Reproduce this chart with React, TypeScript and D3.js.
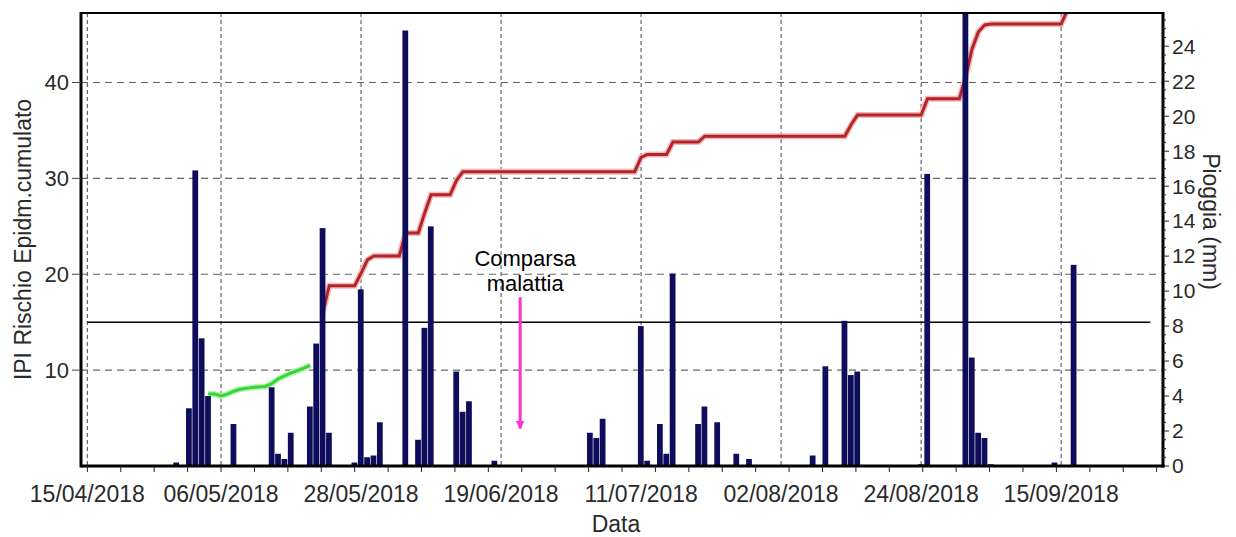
import React from "react";
import * as d3 from "d3";

// daily rain (mm), right axis
const rainDates = [
  "2018-04-29", "2018-05-01", "2018-05-02", "2018-05-03", "2018-05-04", "2018-05-08",
  "2018-05-14", "2018-05-15", "2018-05-16", "2018-05-17", "2018-05-20", "2018-05-21",
  "2018-05-22", "2018-05-23", "2018-05-27", "2018-05-28", "2018-05-29", "2018-05-30",
  "2018-05-31", "2018-06-04", "2018-06-06", "2018-06-07", "2018-06-08", "2018-06-12",
  "2018-06-13", "2018-06-14", "2018-06-18", "2018-07-03", "2018-07-04", "2018-07-05",
  "2018-07-11", "2018-07-12", "2018-07-14", "2018-07-15", "2018-07-16", "2018-07-20",
  "2018-07-21", "2018-07-23", "2018-07-26", "2018-07-28", "2018-08-07", "2018-08-09",
  "2018-08-12", "2018-08-13", "2018-08-14", "2018-08-24", "2018-08-25", "2018-08-31",
  "2018-09-01", "2018-09-02", "2018-09-03", "2018-09-04", "2018-09-14", "2018-09-17",
];
const rainMm = [
  0.2, 3.3, 16.9, 7.3, 4.0, 2.4,
  4.5, 0.7, 0.4, 1.9, 3.4, 7.0,
  13.6, 1.9, 0.2, 10.1, 0.5, 0.6,
  2.5, 24.9, 1.5, 7.9, 13.7, 5.4,
  3.1, 3.7, 0.3, 1.9, 1.6, 2.7,
  8.0, 0.3, 2.4, 0.7, 11.0, 2.4,
  3.4, 2.5, 0.7, 0.4, 0.6, 5.7,
  8.3, 5.2, 5.4, 0.1, 16.7, 27.0,
  6.2, 1.9, 1.6, 0.1, 0.2, 11.5,
];

// IPI cumulated risk, left axis (green below threshold, red above)
const ipiDates = [
  "2018-05-04", "2018-05-05", "2018-05-06", "2018-05-07", "2018-05-08", "2018-05-09",
  "2018-05-11", "2018-05-13", "2018-05-14", "2018-05-15", "2018-05-16", "2018-05-17",
  "2018-05-19", "2018-05-20", "2018-05-22", "2018-05-23", "2018-05-27",
  "2018-05-28", "2018-05-29", "2018-05-30", "2018-06-03", "2018-06-04", "2018-06-06",
  "2018-06-07", "2018-06-08", "2018-06-11", "2018-06-12", "2018-06-13", "2018-07-10",
  "2018-07-11", "2018-07-12", "2018-07-15", "2018-07-16", "2018-07-20", "2018-07-21",
  "2018-08-12", "2018-08-13", "2018-08-14", "2018-08-24", "2018-08-25", "2018-08-30",
  "2018-08-31", "2018-09-01", "2018-09-02", "2018-09-03", "2018-09-04", "2018-09-15",
  "2018-09-16", "2018-09-17",
];
const ipiValues = [
  7.5, 7.5, 7.3, 7.5, 7.8, 8.0,
  8.2, 8.3, 8.6, 9.1, 9.4, 9.7,
  10.2, 10.5, 16.0, 18.8, 18.8,
  20.1, 21.5, 21.9, 21.9, 24.3, 24.3,
  26.4, 28.3, 28.3, 29.8, 30.7, 30.7,
  32.2, 32.5, 32.5, 33.8, 33.8, 34.4,
  34.4, 35.6, 36.6, 36.6, 38.3, 38.3,
  40.6, 43.5, 45.3, 46.0, 46.1, 46.1,
  47.6, 49.0,
];

const dateTicks = [
  "2018-04-15", "2018-05-06", "2018-05-28", "2018-06-19",
  "2018-07-11", "2018-08-02", "2018-08-24", "2018-09-15",
];
const ipiTicks = [10, 20, 30, 40];
const rainTicks = [0, 2, 4, 6, 8, 10, 12, 14, 16, 18, 20, 22, 24];

const ipiThreshold = 15;
const thresholdSpan = ["2018-04-15", "2018-09-29"];
const onsetDate = "2018-06-22";
const onsetArrow = [17.6, 3.9];
const onsetLabel = ["Comparsa", "malattia"];

const W = 1236;
const H = 537;
const L = 81, R = 1163, T = 13, B = 466;
const font = "'Liberation Sans', Arial, sans-serif";
const txt = "#2a2a2a";

export default function App() {
  const x = d3.scaleUtc()
    .domain([new Date("2018-04-14"), new Date("2018-10-01")])
    .range([L, R]);
  const yL = d3.scaleLinear().domain([0, 47.25]).range([B, T]);
  const yR = d3.scaleLinear().domain([0, 25.9]).range([B, T]);

  const day = 86400000;
  const dayW = x(new Date(day * 2)) - x(new Date(day));

  const ipi = ipiDates.map((d, i) => ({ date: new Date(d), v: ipiValues[i] }));
  const line = d3.line<{ date: Date; v: number }>()
    .x((d) => x(d.date))
    .y((d) => yL(d.v));
  const lowPath = line(ipi.filter((d) => d.v < ipiThreshold)) || "";
  const highPath = line(ipi.filter((d) => d.v >= ipiThreshold)) || "";

  const majorX = dateTicks.map((d) => x(new Date(d)));
  const step = (majorX[1] - majorX[0]) / 4;
  const minorX: number[] = [];
  for (let v = majorX[0]; v <= R; v += step) minorX.push(v);

  const minorR = d3.range(0, 25.6, 0.5);
  const yT = yL(ipiThreshold);
  const ox = x(new Date(onsetDate));

  return (
    <svg width={W} height={H} style={{ position: "absolute", left: 0, top: 0, background: "#fff" }}>
      <defs>
        <clipPath id="plot"><rect x={L} y={T} width={R - L} height={B - T} /></clipPath>
        <marker id="arrow" viewBox="0 0 10 10" refX="9" refY="5" markerWidth="3" markerHeight="3" orient="auto">
          <path d="M0,0 L10,5 L0,10 z" fill="#ff33cc" />
        </marker>
      </defs>

      {/* grid */}
      {ipiTicks.map((t) => (
        <line key={"gh" + t} x1={L} x2={R} y1={yL(t)} y2={yL(t)} stroke="#666" strokeWidth={1.2} strokeDasharray="7,5" />
      ))}
      {majorX.map((v, i) => (
        <line key={"gv" + i} x1={v} x2={v} y1={T} y2={B} stroke="#666" strokeWidth={1.2} strokeDasharray="4,3" />
      ))}

      {/* threshold */}
      <line x1={x(new Date(thresholdSpan[0]))} x2={x(new Date(thresholdSpan[1]))} y1={yT} y2={yT} stroke="#000" strokeWidth={1.5} />

      {/* IPI line */}
      <g clipPath="url(#plot)">
        <path d={highPath} fill="none" stroke="#f2b8b8" strokeWidth={6} />
        <path d={highPath} fill="none" stroke="#b3232a" strokeWidth={3} />
        <path d={lowPath} fill="none" stroke="#b8f0b8" strokeWidth={6} />
        <path d={lowPath} fill="none" stroke="#33d633" strokeWidth={3} />
      </g>

      {/* rain bars */}
      <g clipPath="url(#plot)">
        {rainDates.map((d, i) => {
          const cx = x(new Date(d));
          const top = yR(rainMm[i]);
          return (
            <rect key={d} x={cx - dayW / 2} y={top} width={dayW - 0.6} height={B - top} fill="#0d0d5c" />
          );
        })}
      </g>

      {/* onset annotation */}
      <line x1={ox} x2={ox} y1={yL(onsetArrow[0])} y2={yL(onsetArrow[1])} stroke="#ff33cc" strokeWidth={3} markerEnd="url(#arrow)" />
      {onsetLabel.map((s, i) => (
        <text key={s} x={ox + 5} y={yL(onsetArrow[0]) - 31 + i * 25} textAnchor="middle" fontFamily={font} fontSize={22} fill="#000">{s}</text>
      ))}

      {/* frame */}
      <line x1={L} x2={R} y1={T} y2={T} stroke="#000" strokeWidth={2} />
      <line x1={L} x2={R + 1.5} y1={B} y2={B} stroke="#000" strokeWidth={3} />
      <line x1={L} x2={L} y1={T - 1} y2={B + 1.5} stroke="#000" strokeWidth={3} />
      <line x1={R} x2={R} y1={T - 1} y2={B + 1.5} stroke="#000" strokeWidth={3} />

      {/* bottom axis */}
      {minorX.map((v, i) => (
        <line key={"mx" + i} x1={v} x2={v} y1={B} y2={B + 6} stroke="#222" strokeWidth={1} />
      ))}
      {dateTicks.map((d, i) => (
        <text key={d} x={majorX[i]} y={502} textAnchor="middle" fontFamily={font} fontSize={23} fill={txt}>
          {d3.utcFormat("%d/%m/%Y")(new Date(d))}
        </text>
      ))}
      <text x={(L + R) / 2 - 6} y={532} textAnchor="middle" fontFamily={font} fontSize={23} fill={txt}>Data</text>

      {/* left axis */}
      {ipiTicks.map((t) => (
        <g key={"yl" + t}>
          <line x1={L - 9} x2={L} y1={yL(t)} y2={yL(t)} stroke="#444" />
          <text x={L - 12} y={yL(t)} dy="0.35em" textAnchor="end" fontFamily={font} fontSize={22} fill={txt}>{t}</text>
        </g>
      ))}
      <text transform={`translate(31,${(T + B) / 2}) rotate(-90)`} textAnchor="middle" fontFamily={font} fontSize={23} fill={txt}>
        IPI Rischio Epidm.cumulato
      </text>

      {/* right axis */}
      {minorR.map((t) => (
        <line key={"mr" + t} x1={R} x2={R + (t % 2 === 0 ? 6 : 3)} y1={yR(t)} y2={yR(t)} stroke="#222" />
      ))}
      {rainTicks.map((t) => (
        <text key={"yr" + t} x={R + 9} y={yR(t)} dy="0.35em" fontFamily={font} fontSize={21} fill={txt}>{t}</text>
      ))}
      <text transform={`translate(1203,${(T + B) / 2 - 18}) rotate(90)`} textAnchor="middle" fontFamily={font} fontSize={23} fill={txt}>
        Pioggia (mm)
      </text>
    </svg>
  );
}
